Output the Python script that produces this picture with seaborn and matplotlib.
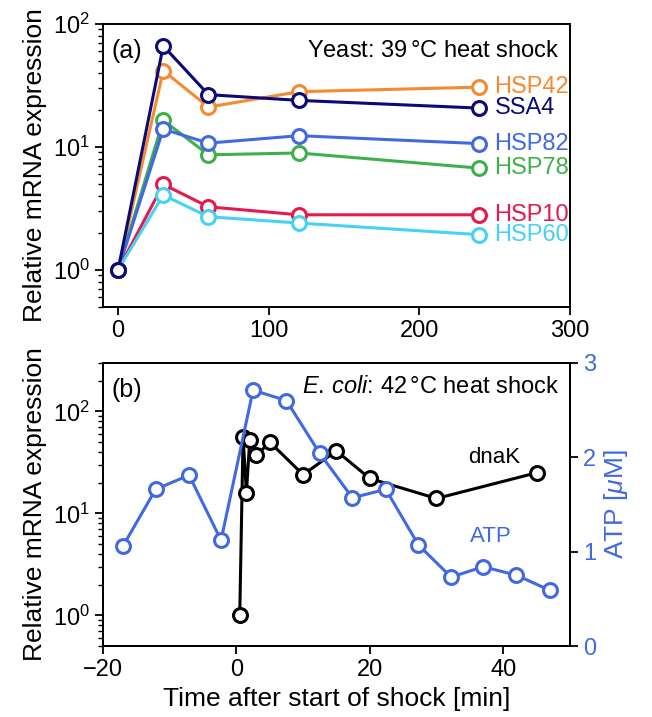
import numpy as np
import pandas as pd
import matplotlib
matplotlib.use("Agg")
import matplotlib.pyplot as plt
import seaborn as sns

# (a) yeast heat shock, 39 C
yeast_time = [0, 30, 60, 120, 240]
yeast_genes = ["HSP42", "HSP78", "HSP82", "HSP10", "HSP60", "SSA4"]
yeast_expr = {
    "HSP42": [1.0, 41.5, 21.0, 28.0, 30.5],
    "HSP78": [1.0, 16.4, 8.6, 8.9, 6.7],
    "HSP82": [1.0, 13.9, 10.7, 12.3, 10.6],
    "HSP10": [1.0, 4.95, 3.25, 2.8, 2.8],
    "HSP60": [1.0, 4.05, 2.7, 2.4, 1.93],
    "SSA4": [1.0, 66.0, 26.5, 23.8, 20.6],
}
yeast_colors = {
    "HSP42": "#f58a32",
    "HSP78": "#3db04a",
    "HSP82": "#4169e1",
    "HSP10": "#e5194b",
    "HSP60": "#45d2f5",
    "SSA4": "#0a0a78",
}

# (b) E. coli heat shock, 42 C
dnak_time = [0.5, 1, 1.5, 2, 3, 5, 10, 15, 20, 30, 45]
dnak_expr = [1.0, 56, 16, 52, 37, 50, 24, 41, 22, 14, 25]
atp_time = [-17, -12.1, -7.1, -2.3, 2.5, 7.5, 12.5, 17.4, 22.4, 27.3, 32.2, 37.0, 42.0, 47.0]
atp_conc = [1.06, 1.66, 1.81, 1.12, 2.71, 2.60, 2.04, 1.57, 1.66, 1.07, 0.73, 0.84, 0.75, 0.59]
atp_color = "#4169e1"

sns.set_style("ticks")
plt.rcParams['font.family'] = ['Liberation Sans', 'DejaVu Sans']
plt.rcParams['mathtext.fontset'] = 'custom'
plt.rcParams['mathtext.rm'] = 'Liberation Sans'
plt.rcParams['mathtext.it'] = 'Liberation Sans:italic'
plt.rcParams['mathtext.bf'] = 'Liberation Sans:bold'
# plain black text and axes (seaborn uses dark grey)
for key in ['text.color', 'axes.labelcolor', 'xtick.color', 'ytick.color', 'axes.edgecolor']:
    plt.rcParams[key] = 'black'
plt.rcParams['axes.linewidth'] = 1.4
plt.rcParams['xtick.major.width'] = 1.3
plt.rcParams['ytick.major.width'] = 1.3
plt.rcParams['ytick.minor.width'] = 1.0
plt.rcParams['xtick.major.size'] = 6
plt.rcParams['ytick.major.size'] = 6
plt.rcParams['ytick.minor.size'] = 3.5
plt.rcParams['xtick.labelsize'] = 17
plt.rcParams['ytick.labelsize'] = 17

FS = 17
mk = dict(marker='o', markersize=10, markerfacecolor='white', markeredgewidth=2.2, linewidth=2.2)

fig = plt.figure(figsize=(6.52, 7.17), dpi=100)
ax1 = fig.add_axes([0.158, 0.572, 0.716, 0.395])
ax2 = fig.add_axes([0.158, 0.099, 0.716, 0.395])

# ---- panel (a)
for g in yeast_genes:
    df = pd.DataFrame({"t": yeast_time, "v": yeast_expr[g]})
    c = yeast_colors[g]
    sns.lineplot(data=df, x="t", y="v", ax=ax1, color=c, markeredgecolor=c, **mk)
    ax1.text(250, yeast_expr[g][-1], g, color=c, fontsize=FS, va='center', ha='left')

ax1.set_yscale('log')
ax1.set_ylim(0.5, 100)
ax1.set_xlim(-10, 300)
ax1.set_xticks([0, 100, 200, 300])
ax1.set_xlabel("")
ax1.set_ylabel("Relative mRNA expression", fontsize=FS + 2)
ax1.text(0.019, 0.905, "(a)", transform=ax1.transAxes, fontsize=FS + 1, va='center', ha='left')
ax1.text(0.977, 0.905, "Yeast: 39$\\,$°C heat shock", transform=ax1.transAxes,
         fontsize=FS, va='center', ha='right')

# ---- panel (b)
df_dnak = pd.DataFrame({"t": dnak_time, "v": dnak_expr})
sns.lineplot(data=df_dnak, x="t", y="v", ax=ax2, color='black', markeredgecolor='black', **mk)
ax2.set_yscale('log')
ax2.set_ylim(0.5, 300)
ax2.set_xlim(-20, 50)
ax2.set_xticks([-20, 0, 20, 40])
ax2.set_xlabel("Time after start of shock [min]", fontsize=FS + 2)
ax2.set_ylabel("Relative mRNA expression", fontsize=FS + 2)
ax2.text(38.7, 35.5, "dnaK", fontsize=FS - 1, ha='center', va='center')
ax2.text(0.019, 0.905, "(b)", transform=ax2.transAxes, fontsize=FS + 1, va='center', ha='left')
ax2.text(0.977, 0.913, "$E.\\,coli$: 42$\\,$°C heat shock", transform=ax2.transAxes,
         fontsize=FS, va='center', ha='right')

ax3 = ax2.twinx()
df_atp = pd.DataFrame({"t": atp_time, "v": atp_conc})
sns.lineplot(data=df_atp, x="t", y="v", ax=ax3, color=atp_color, markeredgecolor=atp_color, **mk)
ax3.set_ylim(0, 3)
ax3.set_yticks([0, 1, 2, 3])
ax3.tick_params(axis='y', colors=atp_color, labelsize=17)
ax3.tick_params(axis='y', color='black')
ax3.spines['right'].set_color('black')
ax3.set_ylabel("ATP [$\\mu$M]", color=atp_color, fontsize=FS + 2)
ax3.text(38.1, 1.16, "ATP", color=atp_color, fontsize=FS - 1, ha='center', va='center')
ax3.set_xlim(-20, 50)

for ax in (ax1, ax2):
    ax.tick_params(axis='both', which='both', direction='out')

fig.savefig("out.png", dpi=100)
